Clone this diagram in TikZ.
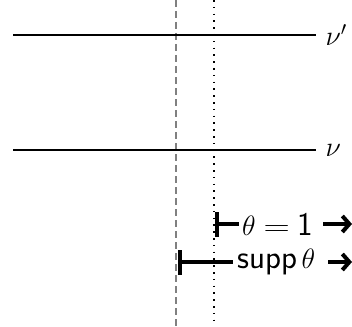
\RequirePackage{fix-cm}
\documentclass[tikz,border=0pt]{standalone}
\usepackage{graphicx}
\usetikzlibrary{arrows.meta}
\newcommand{\bigsf}[1]{\scalebox{1.18}{\textsf{#1}}}
\begin{document}
\begin{tikzpicture}[x=1pt,y=-1pt,font=\fontsize{28}{32}\selectfont,
  level/.style={line width=1.2pt},
  lbl/.style={anchor=west,inner sep=0pt,xshift=9pt},
  barline/.style={line width=4pt,{Bar[width=25pt]}-},
  arrline/.style={line width=4pt,-{Straight Barb[length=7pt,width=16pt]}},
  txt/.style={anchor=west,inner sep=0pt}]
\useasboundingbox (0,0) rectangle (352,326);
\coordinate (dt) at (176,0); \coordinate (db) at (176,326);
\coordinate (ot) at (214,0); \coordinate (ob) at (214,326);
\draw[gray,line width=1.2pt,dash pattern=on 7pt off 4pt] (dt) -- (db);
\draw[line width=1.6pt,dash pattern=on 1.6pt off 5.2pt] (ot) -- (ob);
\coordinate (l1a) at (13,35); \coordinate (l1b) at (316,35);
\coordinate (l2a) at (13,150); \coordinate (l2b) at (316,150);
\draw[level] (l1a) -- (l1b) node[lbl] (nup) {$\nu'$};
\draw[level] (l2a) -- (l2b) node[lbl] (nu) {$\nu$};
\coordinate (b1) at (215,224); \coordinate (e1) at (352,224);
\coordinate (b2) at (178,262); \coordinate (e2) at (352,262);
\node[txt] (t1) at (242,224) {$\theta\mathrel{\scalebox{1.3}[1]{$=$}}\mbox{\bigsf{1}}$};
\node[txt] (t2) at (237,262) {\bigsf{supp}\,$\theta$};
\draw[barline] (b1) -- ([xshift=-3pt]t1.west);
\draw[arrline] ([xshift=10pt]t1.east) -- (e1);
\draw[barline] (b2) -- ([xshift=-4pt]t2.west);
\draw[arrline] ([xshift=13pt]t2.east) -- (e2);
\end{tikzpicture}
\end{document}
